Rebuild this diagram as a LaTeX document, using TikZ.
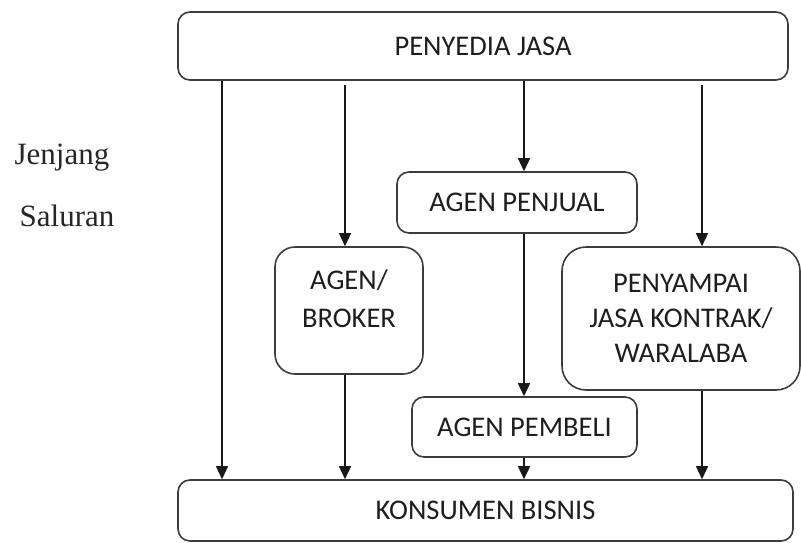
\documentclass[tikz,border=0pt]{standalone}
\usepackage{fontspec}
\setmainfont{Carlito}
\newfontfamily\serifface{Liberation Serif}
\usetikzlibrary{arrows.meta}
\definecolor{edge}{HTML}{3C3C3C}
\definecolor{ink}{HTML}{1E1E1E}
\begin{document}
\begin{tikzpicture}[x=1pt,y=-1pt,
  box/.style={draw=edge, line width=1.6pt, align=center, text=ink,
    font=\fontsize{28.5}{35}\selectfont, inner sep=0pt},
  arr/.style={draw=black!90, line width=1.4pt,
    -{Triangle[length=13pt,width=12pt]}},
  side/.style={font=\serifface\fontsize{31}{36}\selectfont, text=black!85}]
\useasboundingbox (0,0) rectangle (801,542);

% boxes
\node[box, rounded corners=12pt, minimum width=610pt, minimum height=68pt] (top) at (483,46) {PENYEDIA JASA};
\node[box, rounded corners=20pt, minimum width=148pt, minimum height=127pt,
  font=\fontsize{28.5}{38}\selectfont, text height=60pt, text depth=27pt] (broker) at (349,310.5) {AGEN/\\BROKER};
\node[box, rounded corners=12pt, minimum width=240pt, minimum height=61pt] (jual) at (517,202.5) {AGEN PENJUAL};
\node[box, rounded corners=12pt, minimum width=225pt, minimum height=60pt] (beli) at (524.5,427) {AGEN PEMBELI};
\node[box, rounded corners=24pt, minimum width=238pt, minimum height=143pt] (kontrak) at (681,318.5) {PENYAMPAI\\JASA KONTRAK/\\WARALABA};
\node[box, rounded corners=12pt, minimum width=615pt, minimum height=61pt] (bot) at (485.5,510.5) {KONSUMEN BISNIS};

% side labels
\node[side] (jenjang) at (62,158) {Jenjang};
\node[side] (saluran) at (67,216) {Saluran};

% arrow columns
\coordinate (c1) at (222,0);
\coordinate (c2) at (345,85);
\coordinate (c3) at (524,0);
\coordinate (c4) at (702,85);

\draw[arr] (top.south -| c1) -- (bot.north -| c1);
\draw[arr] (c2) -- (broker.north -| c2);
\draw[arr] (broker.south -| c2) -- (bot.north -| c2);
\draw[arr] (top.south -| c3) -- (jual.north -| c3);
\draw[arr] (jual.south -| c3) -- (beli.north -| c3);
\draw[arr] (beli.south -| c3) -- (bot.north -| c3);
\draw[arr] (c4) -- (kontrak.north -| c4);
\draw[arr] (kontrak.south -| c4) -- (bot.north -| c4);
\end{tikzpicture}
\end{document}
